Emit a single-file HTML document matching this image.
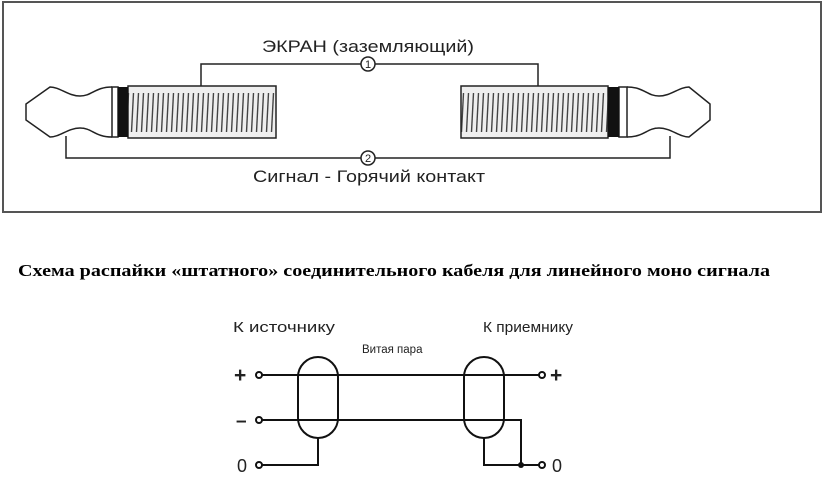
<!DOCTYPE html>
<html><head><meta charset="utf-8"><style>
body{margin:0;background:#fff;width:825px;height:496px;overflow:hidden}
svg{display:block}
</style></head><body>
<svg width="825" height="496" viewBox="0 0 825 496" xmlns="http://www.w3.org/2000/svg">
<defs>
<pattern id="thr" x="0" y="86" width="5" height="52" patternUnits="userSpaceOnUse">
<rect width="5" height="52" fill="#eeeeee"/>
<line x1="1.5" y1="46" x2="3.5" y2="7" stroke="#444" stroke-width="1.4"/>
</pattern>
</defs>
<rect x="3" y="2" width="818" height="210" fill="#fff" stroke="#555" stroke-width="2"/>
<g fill="none" stroke="#222" stroke-width="1.5">
<path d="M112 87 C95 87 92 96 80 96 C68 96 60 87 50 87 L26 104 L26 120 L50 137 C60 137 68 128 80 128 C92 128 95 137 112 137"/>
<rect x="112" y="87" width="6" height="50"/>
<rect x="128" y="86" width="148" height="52" fill="url(#thr)"/>
<path d="M627 87 C644 87 647 96 659 96 C671 96 679 87 689 87 L710 104 L710 120 L689 137 C679 137 671 128 659 128 C647 128 644 137 627 137"/>
<rect x="619" y="87" width="8" height="50"/>
<rect x="461" y="86" width="147" height="52" fill="url(#thr)"/>
<path d="M201 86 L201 64 L538 64 L538 86"/>
<path d="M66 136 L66 158 L670 158 L670 136"/>
<circle cx="368" cy="64" r="7" fill="#fff"/>
<circle cx="368" cy="158" r="7" fill="#fff"/>
</g>
<rect x="118" y="87" width="10" height="50" fill="#111"/>
<rect x="608" y="87" width="11" height="50" fill="#111"/>
<g font-family="Liberation Sans, sans-serif" fill="#222">
<text x="262" y="52" font-size="17" textLength="212" lengthAdjust="spacingAndGlyphs">ЭКРАН (заземляющий)</text>
<text x="368" y="68" font-size="11" text-anchor="middle">1</text>
<text x="368" y="162" font-size="11" text-anchor="middle">2</text>
<text x="253" y="182" font-size="17" textLength="232" lengthAdjust="spacingAndGlyphs">Сигнал - Горячий контакт</text>
</g>
<text x="18" y="276" font-family="Liberation Serif, serif" font-weight="bold" font-size="17" textLength="752" lengthAdjust="spacingAndGlyphs" fill="#000">Схема распайки «штатного» соединительного кабеля для линейного моно сигнала</text>
<g font-family="Liberation Sans, sans-serif" fill="#222">
<text x="233" y="332" font-size="15" textLength="102" lengthAdjust="spacingAndGlyphs">К источнику</text>
<text x="483" y="332" font-size="15" textLength="90" lengthAdjust="spacingAndGlyphs">К приемнику</text>
<text x="362" y="353" font-size="11.5">Витая пара</text>
<text x="234" y="382" font-size="21" font-weight="bold">+</text>
<text x="236" y="427" font-size="19" font-weight="bold">–</text>
<text x="237" y="472" font-size="18">0</text>
<text x="550" y="382" font-size="21" font-weight="bold">+</text>
<text x="552" y="472" font-size="18">0</text>
</g>
<g fill="none" stroke="#111" stroke-width="2">
<rect x="298" y="357" width="40" height="81" rx="20" ry="20"/>
<rect x="464" y="357" width="40" height="81" rx="20" ry="20"/>
<path d="M262 375 L539 375"/>
<path d="M262 420 L521 420 L521 465"/>
<path d="M262 465 L318 465 L318 438"/>
<path d="M484 438 L484 465 L539 465"/>
<circle cx="259" cy="375" r="3" fill="#fff"/>
<circle cx="259" cy="420" r="3" fill="#fff"/>
<circle cx="259" cy="465" r="3" fill="#fff"/>
<circle cx="542" cy="375" r="3" fill="#fff"/>
<circle cx="542" cy="465" r="3" fill="#fff"/>
</g>
<circle cx="521" cy="465" r="3" fill="#111"/>
</svg>
</body></html>
